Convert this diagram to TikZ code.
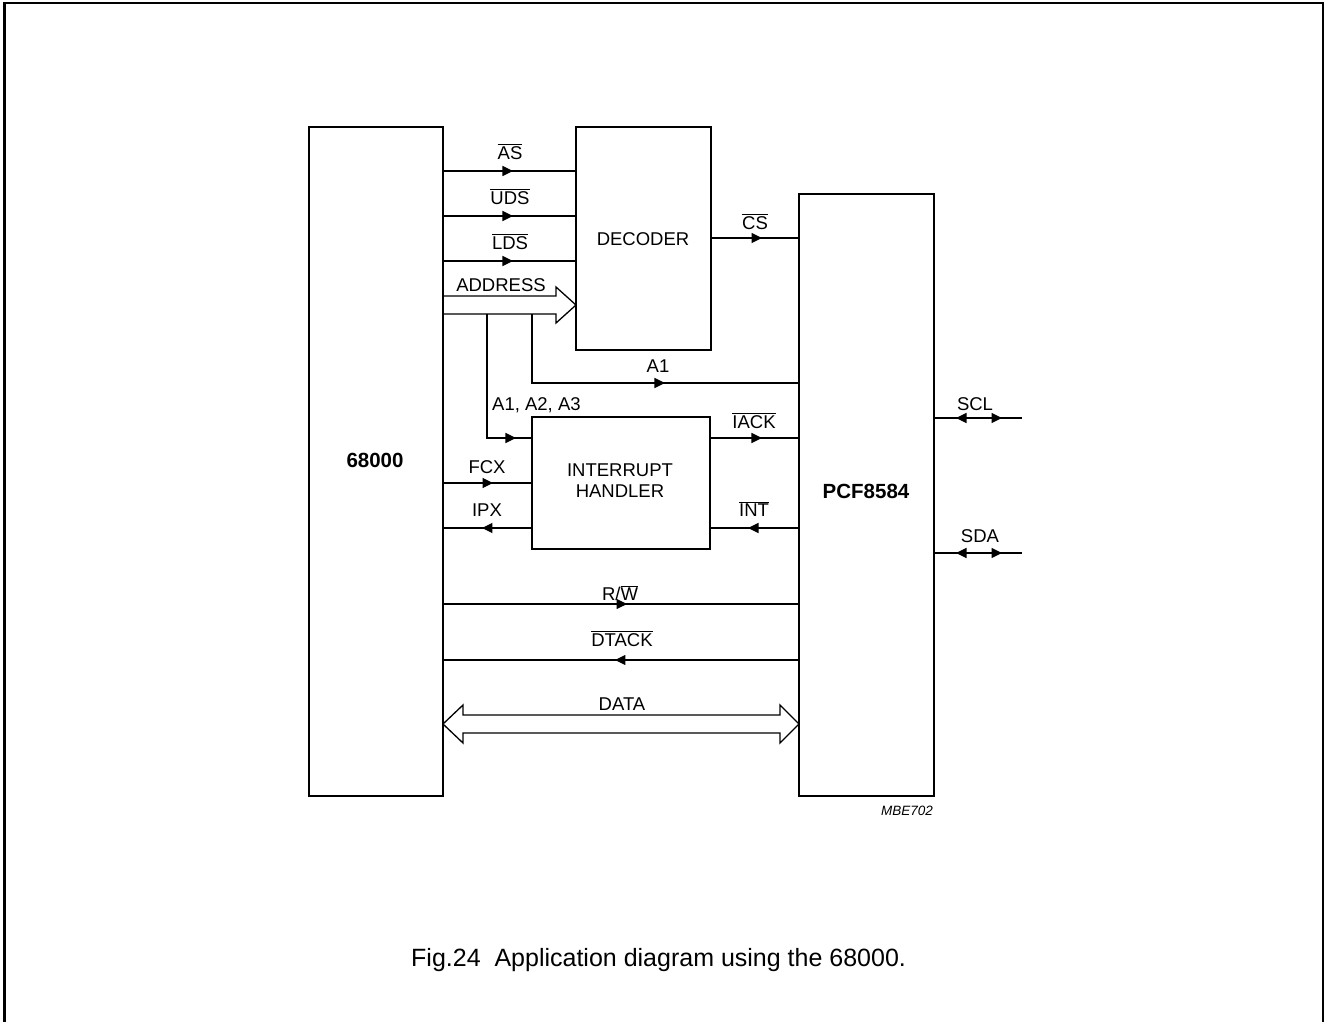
\documentclass[tikz,border=0pt]{standalone}
\usepackage{fontspec}
\setmainfont{Liberation Sans}
\usetikzlibrary{arrows.meta,decorations.markings}
\newcommand{\ovbar}[1]{$\overline{\hbox{#1}}$}
\begin{document}
\begin{tikzpicture}[x=1pt,y=-1pt,
  box/.style={draw,line width=2.7pt,inner sep=0pt,outer sep=0pt},
  sig/.style={line width=1.3pt},
  bus/.style={line width=1.3pt,line join=miter},
  lbl/.style={font=\fontsize{18.5}{20}\selectfont,anchor=base,inner sep=0pt},
  blbl/.style={font=\fontsize{20.5}{22}\selectfont\bfseries,anchor=base,inner sep=0pt},
  marr/.style={postaction={decorate},decoration={markings,mark=at position #1 with {\arrow{Triangle[length=10.5pt,width=10pt]}}}}
]
\useasboundingbox (0,0) rectangle (1328,1021);
% frame
\draw[line width=2.3pt] (4.5,1025) -- (4.5,3.3) -- (1323,3.3) -- (1323,1025);

% boxes
\node[box,minimum width=134pt,minimum height=669pt] (m) at (376,461.5) {};
\node[box,minimum width=135pt,minimum height=223pt] (dec) at (643.5,238.5) {};
\node[box,minimum width=135pt,minimum height=602pt] (pcf) at (866.5,495) {};
\node[box,minimum width=178pt,minimum height=132pt] (ih) at (621,483) {};

\node[blbl] (t68) at (375,467) {68000};
\node[blbl] (tpcf) at (866,498) {PCF8584};
\node[lbl] (tdec) at (643,245) {DECODER};
\node[lbl] (tih1) at (620,476) {INTERRUPT};
\node[lbl] (tih2) at (620,497) {HANDLER};

% pin coordinates
\coordinate (asL) at (443,171);  \coordinate (asR) at (576,171);
\coordinate (udsL) at (443,216); \coordinate (udsR) at (576,216);
\coordinate (ldsL) at (443,261); \coordinate (ldsR) at (576,261);
\coordinate (csL) at (711,238);  \coordinate (csR) at (799,238);
\coordinate (brA) at (487,314);  \coordinate (brAc) at (487,438); \coordinate (brAe) at (532,438);
\coordinate (brB) at (532,314);  \coordinate (brBc) at (532,383); \coordinate (brBe) at (799,383);
\coordinate (iackL) at (710,438); \coordinate (iackR) at (799,438);
\coordinate (fcxL) at (443,483); \coordinate (fcxR) at (532,483);
\coordinate (ipxL) at (443,528); \coordinate (ipxR) at (532,528);
\coordinate (intL) at (710,528); \coordinate (intR) at (799,528);
\coordinate (rwL) at (443,604);  \coordinate (rwR) at (799,604);
\coordinate (dtL) at (443,660);  \coordinate (dtR) at (799,660);
\coordinate (sclL) at (934,418); \coordinate (sclM) at (979,418); \coordinate (sclR) at (1022,418);
\coordinate (sdaL) at (934,553); \coordinate (sdaM) at (979,553); \coordinate (sdaR) at (1022,553);

% signal lines
\draw[sig,marr=0.526] (asL) -- (asR);
\draw[sig,marr=0.526] (udsL) -- (udsR);
\draw[sig,marr=0.526] (ldsL) -- (ldsR);
\draw[sig,marr=0.58] (csL) -- (csR);
\draw[sig,marr=0.905] (brA) -- (brAc) -- (brAe);
\draw[sig,marr=0.601] (brB) -- (brBc) -- (brBe);
\draw[sig,marr=0.584] (iackL) -- (iackR);
\draw[sig,marr=0.562] (fcxL) -- (fcxR);
\draw[sig,marr=0.562] (ipxR) -- (ipxL);
\draw[sig,marr=0.573] (intR) -- (intL);
\draw[sig,marr=0.517] (rwL) -- (rwR);
\draw[sig,marr=0.517] (dtR) -- (dtL);
\draw[sig,marr=0.511] (sclM) -- (sclL);
\draw[sig,marr=0.535] (sclM) -- (sclR);
\draw[sig,marr=0.511] (sdaM) -- (sdaL);
\draw[sig,marr=0.535] (sdaM) -- (sdaR);

% ADDRESS bus
\coordinate (adT) at (443,296); \coordinate (adB) at (443,314); \coordinate (adTip) at (576,305);
\draw[bus] (adT) -- (556,296) -- (556,287) -- (adTip) -- (556,323) -- (556,314) -- (adB);

% DATA bus
\coordinate (daL) at (443,724); \coordinate (daR) at (799,724);
\draw[bus] (daL) -- (463,705) -- (463,715) -- (780,715) -- (780,705) -- (daR)
  -- (780,743) -- (780,733) -- (463,733) -- (463,743) -- cycle;

% labels
\node[lbl] (las) at (510,159) {\ovbar{AS}};
\node[lbl] (luds) at (510,204) {\ovbar{UDS}};
\node[lbl] (llds) at (510,249) {\ovbar{LDS}};
\node[lbl] (laddr) at (501,291) {ADDRESS};
\node[lbl] (lcs) at (755,229) {\ovbar{CS}};
\node[lbl] (la1) at (658,372) {A1};
\node[lbl,anchor=base west] (la123) at (492,410) {A1, A2, A3};
\node[lbl] (liack) at (754,428) {\ovbar{IACK}};
\node[lbl] (lfcx) at (487,473) {FCX};
\node[lbl] (lipx) at (487,516) {IPX};
\node[lbl] (lint) at (754,516) {\ovbar{INT}};
\node[lbl] (lrw) at (620,600) {R/\ovbar{W}};
\node[lbl] (ldt) at (622,646) {\ovbar{DTACK}};
\node[lbl] (ldata) at (622,710) {DATA};
\node[lbl] (lscl) at (975,410) {SCL};
\node[lbl] (lsda) at (980,542) {SDA};
\node[font=\fontsize{13.5}{15}\selectfont\itshape,anchor=base east,inner sep=0pt] (mbe) at (933,815) {MBE702};
\node[font=\fontsize{25}{27}\selectfont,anchor=base west,inner sep=0pt] (cap) at (411,966) {Fig.24\ \ Application diagram using the 68000.};
\end{tikzpicture}
\end{document}
